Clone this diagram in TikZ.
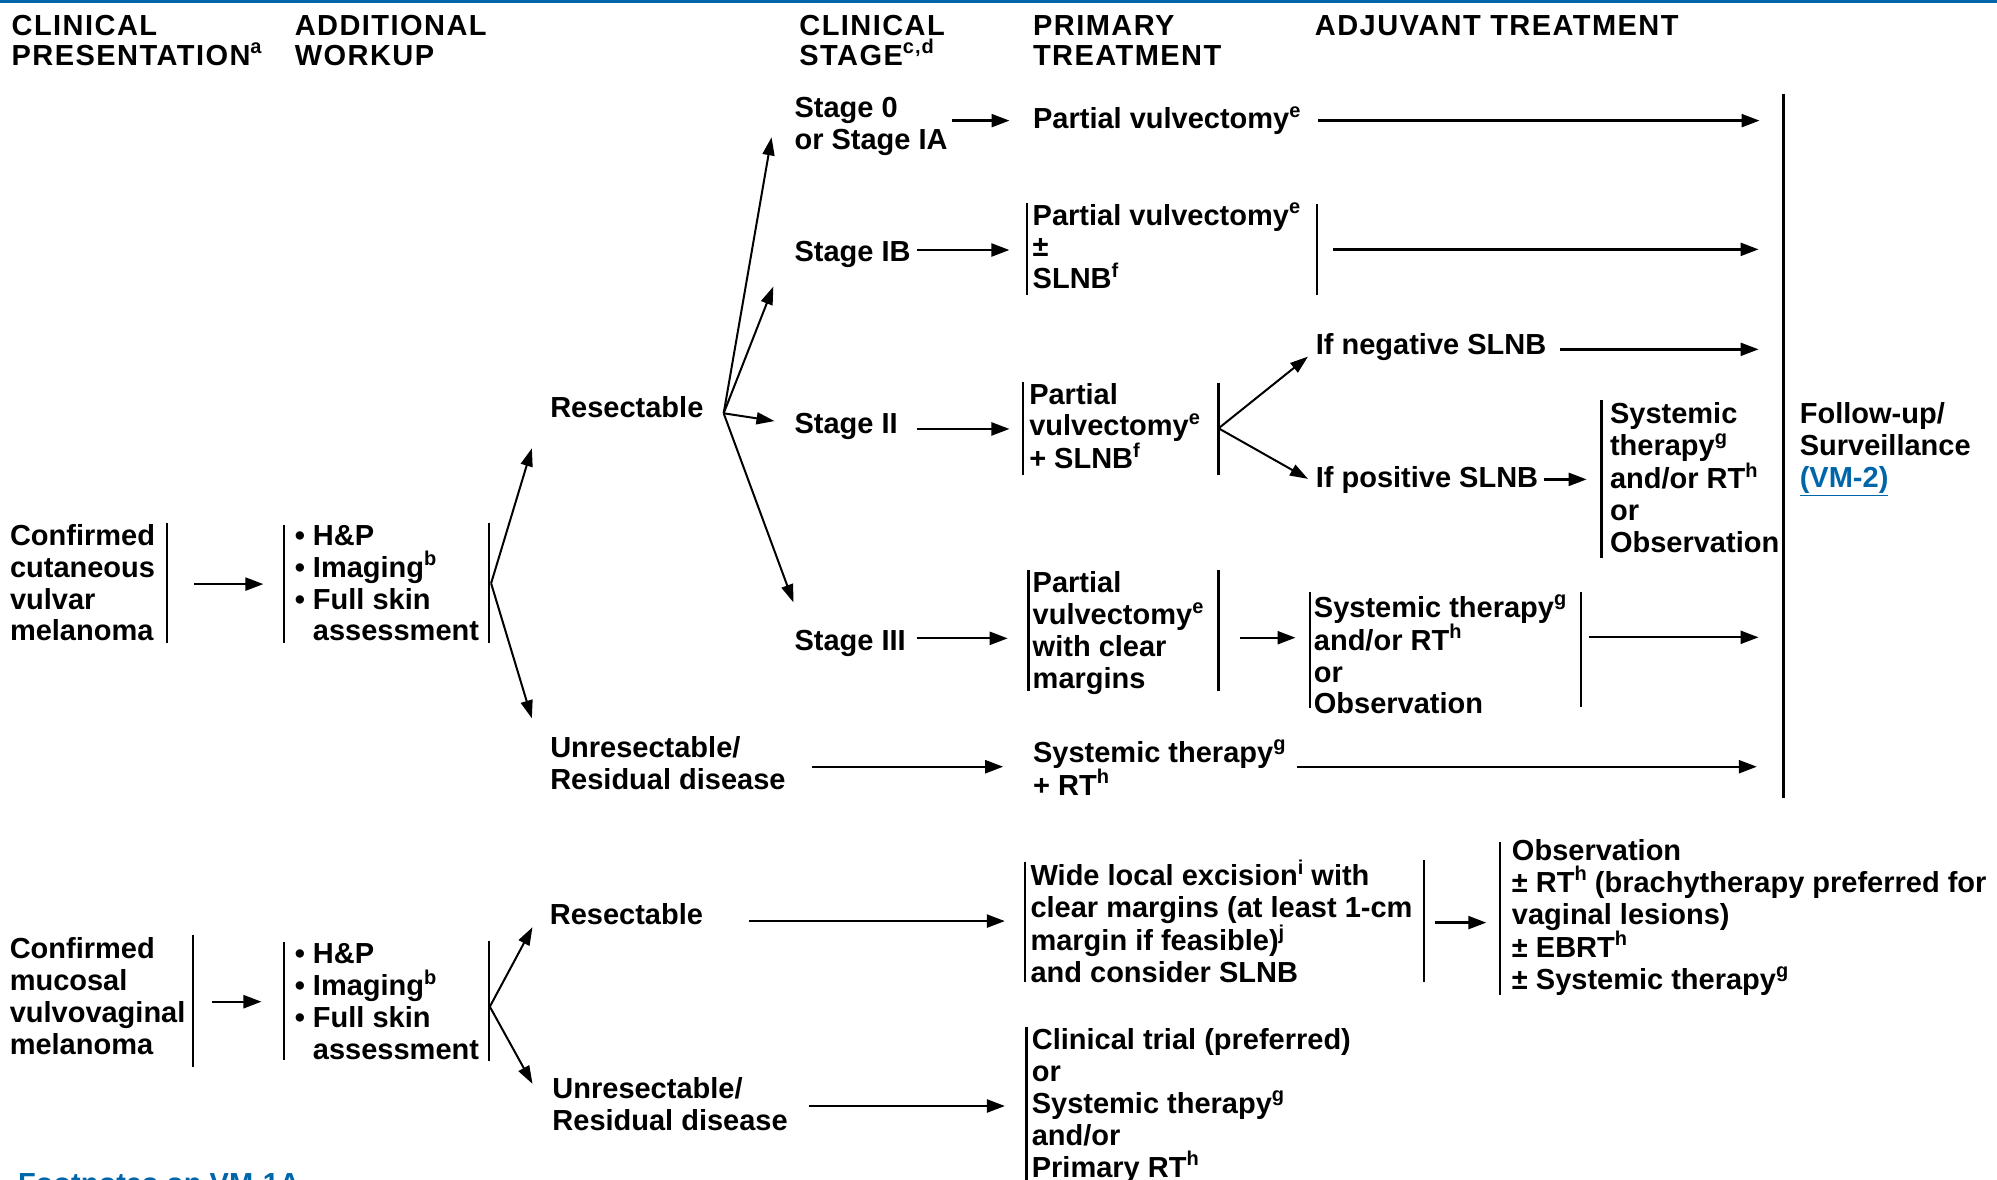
\documentclass[tikz,border=0pt]{standalone}
\usepackage{fontspec}
\setmainfont{Liberation Sans}
\usetikzlibrary{arrows.meta,calc}
\definecolor{nccnblue}{RGB}{0,102,170}
\newcommand\fs{\rule{0pt}{29pt}}
\newcommand\fsh{\rule{0pt}{27pt}}
\newcommand\sups[1]{\raisebox{11.5pt}{\fontsize{20}{20}\selectfont #1}}
\newcommand\bodyfont{\fontsize{29}{31.8}\selectfont\bfseries}
\newcommand\headfont{\fontsize{29}{29.9}\selectfont\bfseries\addfontfeatures{LetterSpace=5}}
\begin{document}
\begin{tikzpicture}[x=1.2736pt,y=-1.2736pt,
  txt/.style={anchor=north west,inner sep=0pt,align=left,font=\bodyfont},
  hd/.style={anchor=north west,inner sep=0pt,align=left,font=\headfont},
  arr/.style={line width=2.3pt,-{Triangle[length=18pt,width=13pt]}},
  fanarr/.style={line width=2pt,-{Triangle[length=18pt,width=12pt]}},
  br/.style={line width=2.2pt},
]
\fill[white] (0,0) rectangle (1568,926.5);
\useasboundingbox (0,0) rectangle (1568,926.5);
\fill[nccnblue] (0,0) rectangle (1568,2.4);

% headers
\node[hd] (h1) at (9,6.3) {\fsh CLINICAL\\PRESENTATION\sups{a}};
\node[hd] (h2) at (231.3,6.3) {\fsh ADDITIONAL\\WORKUP};
\node[hd] (h3) at (627.5,6.3) {\fsh CLINICAL\\STAGE\sups{c,d}};
\node[hd] (h4) at (811,6.3) {\fsh PRIMARY\\TREATMENT};
\node[hd] (h5) at (1032.3,6.3) {\fsh ADJUVANT TREATMENT};

% cutaneous branch
\node[txt] (cut) at (7.7,405.4) {\fs Confirmed\\cutaneous\\vulvar\\melanoma};
\node[txt] (wk1) at (231.3,405.4) {\fs • H\&P\\• Imaging\sups{b}\\• Full skin\\\phantom{• }assessment};
\node[txt] (res1) at (431.9,304.7) {\fs Resectable};
\node[txt] (unr1) at (431.9,571.8) {\fs Unresectable/\\Residual disease};
\node[txt] (s0) at (623.7,69.1) {\fs Stage 0\\or Stage IA};
\node[txt] (s1b) at (623.7,182.3) {\fs Stage IB};
\node[txt] (s2) at (623.7,317.8) {\fs Stage II};
\node[txt] (s3) at (623.7,487.6) {\fs Stage III};
\node[txt] (pv1) at (811,78.3) {\fs Partial vulvectomy\sups{e}};
\node[txt] (pv2) at (810.7,153.8) {\fs Partial vulvectomy\sups{e}\\±\\SLNB\sups{f}};
\node[txt] (pv3) at (808,294.4) {\fs Partial\\vulvectomy\sups{e}\\+ SLNB\sups{f}};
\node[txt] (pv4) at (810.7,442.6) {\fs Partial\\vulvectomy\sups{e}\\with clear\\margins};
\node[txt] (sr) at (811,575.5) {\fs Systemic therapy\sups{g}\\+ RT\sups{h}};
\node[txt] (neg) at (1033,255.8) {\fs If negative SLNB};
\node[txt] (pos) at (1033,359.8) {\fs If positive SLNB};
\node[txt] (st2) at (1264,309.8) {\fs Systemic\\therapy\sups{g}\\and/or RT\sups{h}\\or\\Observation};
\node[txt] (st3) at (1031.5,461.7) {\fs Systemic therapy\sups{g}\\and/or RT\sups{h}\\or\\Observation};
\node[txt] (fu) at (1413,309.8) {\fs Follow-up/\\Surveillance\\\textcolor{nccnblue}{\underline{(VM-2)}}};
\node[inner sep=0pt,minimum width=0pt,minimum height=704pt] (fuL) at (1400.4,350.4) {};

% mucosal branch
\node[txt] (muc) at (7.5,730) {\fs Confirmed\\mucosal\\vulvovaginal\\melanoma};
\node[txt] (wk2) at (231.3,733.9) {\fs • H\&P\\• Imaging\sups{b}\\• Full skin\\\phantom{• }assessment};
\node[txt] (res2) at (431.6,703.3) {\fs Resectable};
\node[txt] (unr2) at (433.6,839.8) {\fs Unresectable/\\Residual disease};
\node[txt] (wle) at (809,672.4) {\fs Wide local excision\sups{i} with\\clear margins (at least 1-cm\\margin if feasible)\sups{j}\\and consider SLNB};
\node[txt] (obs) at (1187,652.8) {\fs Observation\\± RT\sups{h} (brachytherapy preferred for\\vaginal lesions)\\± EBRT\sups{h}\\± Systemic therapy\sups{g}};
\node[txt] (ct) at (810,801.4) {\fs Clinical trial (preferred)\\or\\Systemic therapy\sups{g}\\and/or\\Primary RT\sups{h}};
\node[txt,text=nccnblue] (foot) at (14,915.8) {\fsh Footnotes on VM-1A};

% brackets
\draw[br] (131.4,410.7) -- (131.4,505);
\draw[br] (223,412) -- (223,504.6);
\draw[br] (383.8,410.7) -- (383.8,505);
\draw[br] (806.2,159.7) -- (806.2,231.6);
\draw[br] (1034,160) -- (1034,231.6);
\draw[br] (803,299.7) -- (803,373);
\draw[br] (956.8,300.5) -- (956.8,373);
\draw[br] (1257.5,314) -- (1257.5,438.4);
\draw[br] (fuL.north) -- (fuL.south);
\draw[br] (807.5,447.5) -- (807.5,542.3);
\draw[br] (956.8,447.5) -- (956.8,542.3);
\draw[br] (1028.3,465) -- (1028.3,556);
\draw[br] (1241.3,464.5) -- (1241.3,555);
\draw[br] (151.7,734) -- (151.7,838);
\draw[br] (222.8,740) -- (222.8,832.3);
\draw[br] (384,738.6) -- (384,832.7);
\draw[br] (805.1,676.5) -- (805.1,770.8);
\draw[br] (1118,675) -- (1118,770.8);
\draw[br] (1178,660.8) -- (1178,781.2);
\draw[br] (806,806) -- (806,930);

% horizontal arrows
\coordinate (t1) at (152.5,458.6);   \draw[arr,shorten >=31.2pt] (t1) -- (t1 -| wk1.west);
\coordinate (t2) at (747.5,94.7);    \draw[arr,shorten >=23.4pt] (t2) -- (t2 -| pv1.west);
\coordinate (t3) at (1034.8,94.7);   \draw[arr,shorten >=23.8pt] (t3) -- (t3 -| fuL.west);
\coordinate (t4) at (720,196.3);     \draw[arr,shorten >=23.1pt] (t4) -- (t4 -| pv2.west);
\coordinate (t5) at (1046.5,195.8);  \draw[arr,shorten >=24.8pt] (t5) -- (t5 -| fuL.west);
\coordinate (t6) at (720,336.8);     \draw[arr,shorten >=19.6pt] (t6) -- (t6 -| pv3.west);
\coordinate (t7) at (1224.9,274.3);  \draw[arr,shorten >=24.8pt] (t7) -- (t7 -| fuL.west);
\coordinate (t8) at (1212,376.4);    \draw[arr,shorten >=23.2pt] (t8) -- (t8 -| st2.west);
\coordinate (t9) at (719.8,501.2);   \draw[arr,shorten >=24.8pt] (t9) -- (t9 -| pv4.west);
\coordinate (t10) at (973.6,500.7);  \draw[arr,shorten >=18.2pt] (t10) -- (t10 -| st3.west);
\coordinate (t11) at (1247.6,500.4); \draw[arr,shorten >=24.8pt] (t11) -- (t11 -| fuL.west);
\coordinate (t12) at (637.6,602);    \draw[arr,shorten >=29.7pt] (t12) -- (t12 -| sr.west);
\coordinate (t13) at (1018.5,602);   \draw[arr,shorten >=26.5pt] (t13) -- (t13 -| fuL.west);
\coordinate (t14) at (166.8,786.5);  \draw[arr,shorten >=33.1pt] (t14) -- (t14 -| wk2.west);
\coordinate (t15) at (588.4,723.2);  \draw[arr,shorten >=25.5pt] (t15) -- (t15 -| wle.west);
\coordinate (t16) at (1127,724.4);   \draw[arr,shorten >=25.5pt] (t16) -- (t16 -| obs.west);
\coordinate (t17) at (635,868.4);    \draw[arr,shorten >=26.7pt] (t17) -- (t17 -| ct.west);

% fans
\coordinate (v1) at (385.6,458);
\coordinate (v1a) at (417.6,352);
\coordinate (v1b) at (417.6,564);
\draw[fanarr] (v1) -- (v1a);
\draw[fanarr] (v1) -- (v1b);
\coordinate (v2) at (568.2,324.5);
\coordinate (v2a) at (605.8,107.8);
\coordinate (v2b) at (607.2,225);
\coordinate (v2c) at (608.1,330.6);
\coordinate (v2d) at (623,473);
\draw[fanarr] (v2) -- (v2a);
\draw[fanarr] (v2) -- (v2b);
\draw[fanarr] (v2) -- (v2c);
\draw[fanarr] (v2) -- (v2d);
\coordinate (v3) at (956.8,336.3);
\coordinate (v3a) at (1027,280);
\coordinate (v3b) at (1027,376);
\draw[fanarr] (v3) -- (v3a);
\draw[fanarr] (v3) -- (v3b);
\coordinate (v4) at (384.6,790.4);
\coordinate (v4a) at (418.1,728);
\coordinate (v4b) at (418.1,851);
\draw[fanarr] (v4) -- (v4a);
\draw[fanarr] (v4) -- (v4b);
\end{tikzpicture}
\end{document}
